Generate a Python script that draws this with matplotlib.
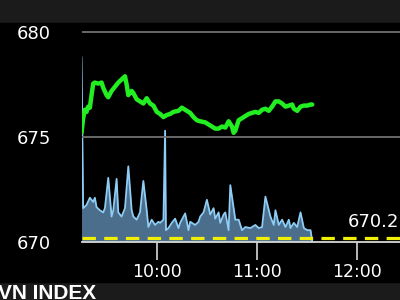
import matplotlib
matplotlib.use("Agg")
import matplotlib.pyplot as plt

# minutes after 9:00
price_t = [15, 16, 17, 18, 19, 20, 21, 22, 23, 25, 27, 28, 30, 31, 33, 35, 37, 39, 41, 42,
           43, 45, 46, 48, 50, 52, 54, 56, 58, 60, 62, 64, 66, 68, 70, 73, 75, 77, 80, 82,
           84, 86, 89, 92, 95, 97, 99, 101, 103, 105, 106, 107, 109, 111, 113, 115, 117, 119, 121, 123,
           125, 127, 129, 131, 133, 135, 137, 139, 141, 142, 144, 146, 148, 150, 152, 153]
price = [675.2, 675.9, 676.3, 676.2, 676.45, 676.4, 677.0, 677.55, 677.6, 677.55, 677.6, 677.35, 677.0, 676.9, 677.2, 677.4, 677.6, 677.75, 677.9, 677.5,
         677.0, 677.2, 677.1, 676.8, 676.7, 676.6, 676.85, 676.6, 676.5, 676.2, 676.1, 675.95, 676.05, 676.1, 676.2, 676.25, 676.4, 676.3, 676.15, 675.95,
         675.8, 675.75, 675.7, 675.55, 675.4, 675.4, 675.5, 675.45, 675.75, 675.5, 675.2, 675.3, 675.8, 675.9, 676.0, 676.1, 676.15, 676.2, 676.15, 676.3,
         676.35, 676.25, 676.45, 676.7, 676.7, 676.6, 676.45, 676.5, 676.55, 676.35, 676.25, 676.45, 676.5, 676.5, 676.55, 676.55]

vol_t = [15, 16, 18, 20, 22, 23, 24, 26, 28, 29, 31, 33, 34, 36, 37, 39, 41, 43, 45, 46,
         48, 50, 52, 54, 55, 57, 59, 61, 62, 64, 65, 65.5, 67, 69, 71, 73, 74, 77, 79, 80,
         83, 85, 86, 88, 90, 92, 94, 95, 97, 98, 100, 101, 103, 104, 107, 109, 111, 113, 116, 119,
         121, 123, 125, 128, 130, 131, 133, 135, 137, 139, 140, 142, 144, 146, 148, 150, 152, 153]
vol = [8.8, 1.6, 1.75, 2.1, 1.9, 2.1, 1.65, 1.5, 1.4, 1.6, 3.05, 1.2, 1.5, 3.0, 1.4, 1.2, 1.6, 3.6, 1.5, 1.2,
       1.05, 1.4, 2.9, 1.5, 0.7, 1.05, 0.8, 0.95, 0.9, 1.05, 5.3, 0.55, 0.65, 0.9, 1.1, 0.65, 0.9, 1.35, 0.55, 0.95,
       0.8, 0.95, 1.2, 1.4, 2.0, 1.3, 1.6, 1.1, 1.4, 0.9, 1.3, 1.4, 0.55, 2.7, 1.05, 1.05, 0.55, 0.7, 0.65, 0.8,
       0.65, 0.7, 2.15, 1.2, 0.8, 1.5, 0.8, 1.05, 0.7, 1.05, 0.65, 0.9, 0.7, 1.4, 0.65, 0.55, 0.55, 0.0]

ref_close = 670.2
y_ticks = [670, 675, 680]
x_ticks = [60, 120, 180]
x_labels = ["10:00", "11:00", "12:00"]

fig = plt.figure(figsize=(4, 3), dpi=100, facecolor="#1b1b1b")
# black plotting band behind everything
fig.patches.append(plt.Rectangle((0, 18 / 300), 1, 259 / 300, transform=fig.transFigure,
                                 color="black", zorder=-5))

ax = fig.add_axes([81.5 / 400, 58.3 / 300, 1 - 81.5 / 400, 218.4 / 300])
axv = ax.twinx()
ax.set_zorder(axv.get_zorder() + 1)
ax.patch.set_visible(False)
axv.patch.set_visible(False)

ylo, yhi = 670, 670 + 218.4 / 20.94
x0 = 15
xscale = 1.672  # px per minute
ax.set_xlim(x0, x0 + (400 - 81.5) / xscale)
ax.set_ylim(ylo, yhi)
axv.set_ylim(0, yhi - ylo)

axv.fill_between(vol_t, 0, vol, color="#4b6e8c", lw=0)
axv.plot(vol_t, vol, color="#8ecdf5", lw=1.3)
axv.axis("off")

for v in y_ticks[1:]:
    ax.axhline(v, color="#707070", lw=1.3, zorder=1)
ax.axhline(ref_close, color="#f0f000", lw=2.3, dashes=(4.2, 2.6), zorder=2)
ax.plot(price_t, price, color="#22ee22", lw=3.2, solid_capstyle="round", zorder=3)

ax.text(x0 + (348 - 81.5) / xscale, ref_close + 0.75, f"{ref_close}", color="white",
        fontsize=13, va="center", ha="left", clip_on=False)

for s in ["top", "right", "left"]:
    ax.spines[s].set_visible(False)
ax.spines["bottom"].set_color("#d8d8d8")
ax.spines["bottom"].set_linewidth(1.3)

ax.set_yticks(y_ticks)
ax.set_yticklabels([str(v) for v in y_ticks])
ax.set_xticks(x_ticks)
ax.set_xticklabels(x_labels)
ax.tick_params(axis="y", length=0, pad=22, labelsize=13, labelcolor="white")
ax.tick_params(axis="x", length=13, width=1.2, color="#d8d8d8", pad=2,
               labelsize=12.5, labelcolor="white")

fig.text(-2 / 400, 0.004, "VN INDEX", color="white", fontsize=15, fontweight="bold",
         family="Liberation Sans", ha="left", va="baseline")

fig.savefig("out.png", dpi=100, facecolor=fig.get_facecolor())
